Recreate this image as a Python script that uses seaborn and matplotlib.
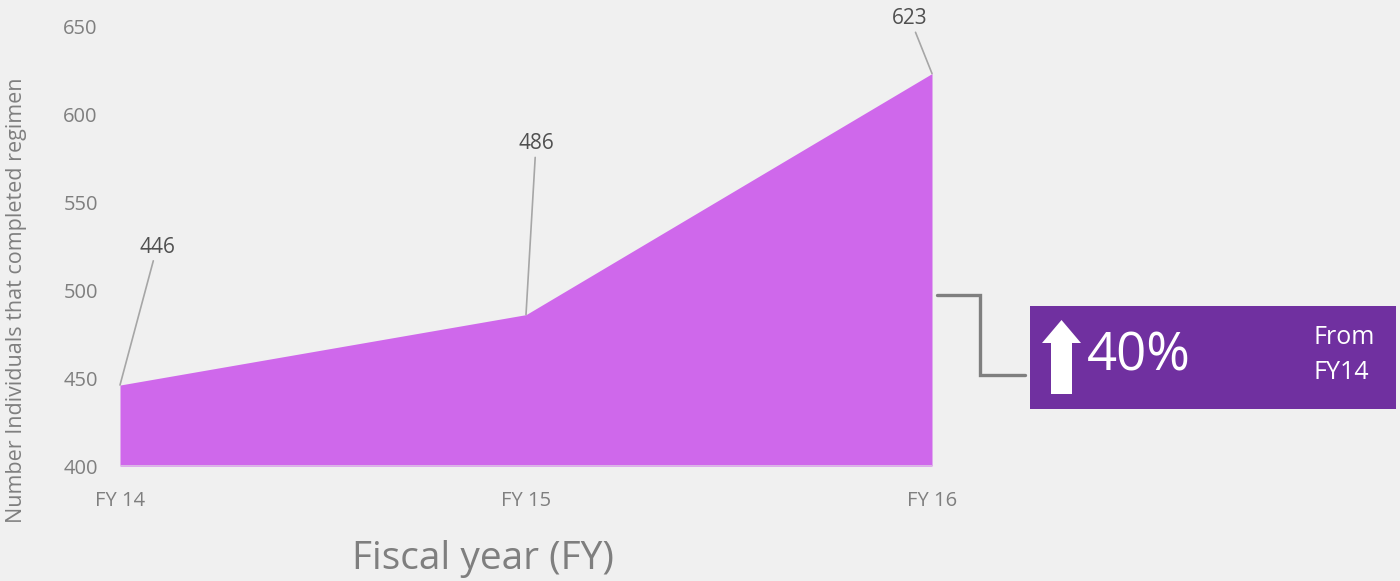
import matplotlib
matplotlib.use("Agg")
import matplotlib.pyplot as plt
import seaborn as sns
import pandas as pd
from matplotlib.patches import Polygon, Rectangle
from matplotlib.lines import Line2D

# Data
years = ["FY 14", "FY 15", "FY 16"]
completed = [446, 486, 623]
y_ticks = [400, 450, 500, 550, 600, 650]
base_label = "FY14"

sns.set_theme(style="white")
plt.rcParams["font.family"] = ["Open Sans", "DejaVu Sans"]

W, H = 1400, 581
BG = "#f0f0f0"
FILL = "#cf68eb"
GREY = "#7f7f7f"

fig = plt.figure(figsize=(W / 100, H / 100), dpi=100, facecolor=BG)

# Main area chart
ax = fig.add_axes([120 / W, 1 - 466 / H, (932 - 120) / W, (466 - 26) / H])
ax.set_facecolor("none")
df = pd.DataFrame({"year": years, "completed": completed})
df["pos"] = range(len(df))
sns.lineplot(data=df, x="pos", y="completed", ax=ax, color=FILL, linewidth=0)
ax.fill_between(df["pos"], y_ticks[0], df["completed"], color=FILL, linewidth=0)
ax.axhline(y_ticks[0], color="#dcc8e4", lw=1.2, zorder=3)

ax.set_xlim(0, len(years) - 1)
ax.set_ylim(y_ticks[0], y_ticks[-1])
ax.set_xticks(df["pos"], years)
ax.set_yticks(y_ticks)
ax.tick_params(axis="both", length=0, colors=GREY, labelsize=14.5)
ax.tick_params(axis="x", pad=18)
ax.tick_params(axis="y", pad=16)
for s in ax.spines.values():
    s.set_visible(False)
ax.set_xlabel("")
ax.set_ylabel("")

# Data labels with leader lines
offsets = [(37, 138), (10, 171), (-22, 55)]
for i, v in enumerate(completed):
    ax.annotate(str(v), xy=(i, v), xytext=offsets[i], textcoords="offset pixels",
                ha="center", va="center", fontsize=15, color="#505050",
                annotation_clip=False,
                arrowprops=dict(arrowstyle="-", color="#a6a6a6", lw=1.2,
                                shrinkA=0, shrinkB=0))

# Axis titles
fig.text(17 / W, 1 - 300 / H, "Number Individuals that completed regimen",
         rotation=90, ha="center", va="center", fontsize=15.5, color=GREY)
fig.text(483 / W, 1 - 559 / H, "Fiscal year (FY)", ha="center", va="center",
         fontsize=28, color=GREY)

# Overlay in pixel coordinates for the callout
ov = fig.add_axes([0, 0, 1, 1])
ov.set_xlim(0, W)
ov.set_ylim(H, 0)
ov.axis("off")
ov.patch.set_alpha(0)

ov.add_line(Line2D([937, 980, 980, 1025], [295, 295, 375, 375],
                   color=GREY, lw=2.4, solid_joinstyle="miter"))
ov.add_patch(Rectangle((1030, 306), 366, 103, color="#7030a0", lw=0))
ov.add_patch(Polygon([(1051, 394), (1072, 394), (1072, 343), (1081, 343),
                      (1061.5, 320), (1042, 343), (1051, 343)],
                     closed=True, color="white", lw=0))

growth = round((completed[-1] - completed[0]) / completed[0] * 100)
ov.text(1087, 357, f"{growth}%", ha="left", va="center", fontsize=38,
        color="white")
ov.text(1313, 355, f"From\n{base_label}", ha="left", va="center",
        fontsize=18, color="white", linespacing=1.5)

fig.savefig("out.png", dpi=100, facecolor=BG)
